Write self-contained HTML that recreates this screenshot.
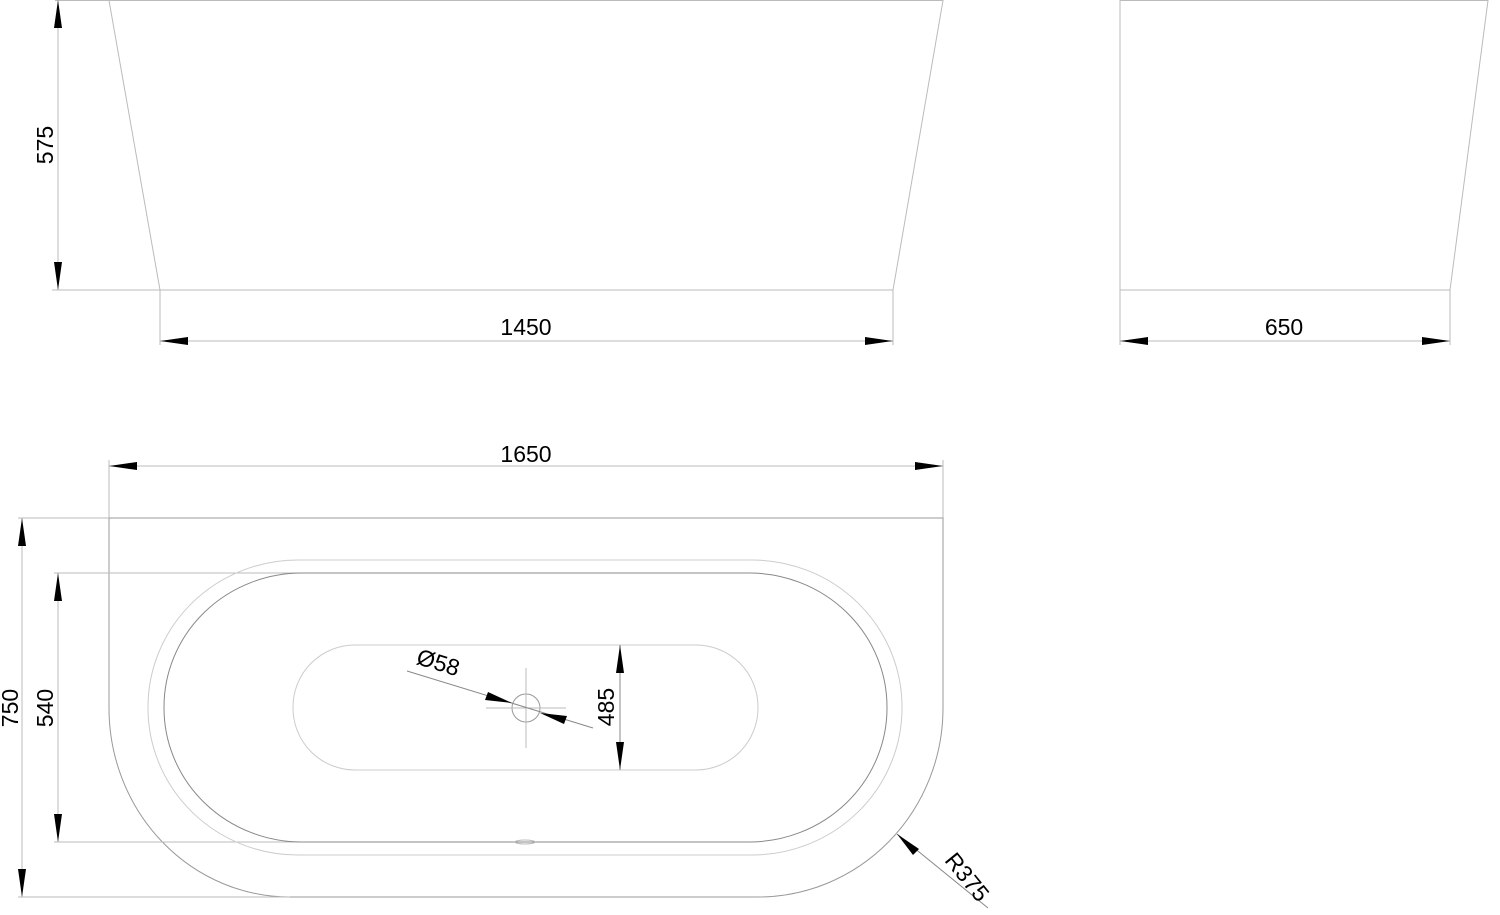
<!DOCTYPE html>
<html><head><meta charset="utf-8"><style>html,body{margin:0;padding:0;background:#fff}svg{display:block}</style></head>
<body>
<svg width="1500" height="915" viewBox="0 0 1500 915" xmlns="http://www.w3.org/2000/svg" font-family="Liberation Sans, sans-serif" font-size="23" fill="none">
<g stroke="#bbb" stroke-width="1">
<polygon points="109,0.5 943,0.5 893,290 160,290"/>
<line x1="52" y1="290" x2="160" y2="290"/>
<line x1="55" y1="0.5" x2="109" y2="0.5"/>
<polygon points="1120,0.5 1488,0.5 1450,290 1120,290"/>
<line x1="58" y1="0" x2="58" y2="290"/>
<line x1="160" y1="290" x2="160" y2="345"/><line x1="893" y1="290" x2="893" y2="345"/>
<line x1="160" y1="341" x2="893" y2="341"/>
<line x1="1120" y1="290" x2="1120" y2="345"/><line x1="1450" y1="290" x2="1450" y2="345"/>
<line x1="1120" y1="341" x2="1450" y2="341"/>
<line x1="109" y1="460" x2="109" y2="518"/><line x1="943" y1="460" x2="943" y2="518"/>
<line x1="109" y1="466" x2="943" y2="466"/>
<path d="M109,518 H943 V708 A185,189 0 0 1 758,897 H290 A181,189 0 0 1 109,708 Z" stroke="#999"/>
<line x1="18" y1="518" x2="109" y2="518"/><line x1="18" y1="897" x2="290" y2="897"/>
<line x1="22" y1="518" x2="22" y2="897"/>
<line x1="54" y1="573" x2="300" y2="573"/><line x1="54" y1="842" x2="520" y2="842"/>
<line x1="58" y1="573" x2="58" y2="842"/>
<rect x="148" y="560" width="754" height="295" rx="150" ry="147" stroke="#ccc"/>
<rect x="164" y="573" width="723" height="269" rx="138" ry="134" stroke="#888"/>
<rect x="293" y="645" width="465" height="125" rx="62" ry="62" stroke="#ccc"/>
<line x1="620" y1="645" x2="620" y2="770" stroke="#888"/>
<circle cx="526" cy="708" r="14" stroke="#999"/>
<line x1="486" y1="708" x2="566" y2="708"/><line x1="526" y1="668" x2="526" y2="748"/>
<line x1="407" y1="671" x2="593" y2="728" stroke="#888"/>
<line x1="897" y1="834" x2="988" y2="908" stroke="#888"/>
<ellipse cx="525" cy="842" rx="10" ry="2"/>
</g>
<g fill="#000">
<polygon points="58,0 54,28 62,28"/><polygon points="58,290 54,262 62,262"/>
<polygon points="160,341 188,337 188,345"/><polygon points="893,341 865,337 865,345"/>
<polygon points="1120,341 1148,337 1148,345"/><polygon points="1450,341 1422,337 1422,345"/>
<polygon points="109,466 137,462 137,470"/><polygon points="943,466 915,462 915,470"/>
<polygon points="22,518 18,546 26,546"/><polygon points="22,897 18,869 26,869"/>
<polygon points="58,573 54,601 62,601"/><polygon points="58,842 54,814 62,814"/>
<polygon points="620,645 616,673 624,673"/><polygon points="620,770 616,742 624,742"/>
<polygon points="512,703 485,700 488,692"/><polygon points="540,713 567,716 564,724"/>
<polygon points="897,834 919,849 913,855"/>
</g>
<g fill="#000" text-anchor="middle">
<text x="526" y="335">1450</text>
<text x="1284" y="335">650</text>
<text x="526" y="462">1650</text>
<text transform="translate(53,145) rotate(-90)">575</text>
<text transform="translate(18,708) rotate(-90)">750</text>
<text transform="translate(53,708) rotate(-90)">540</text>
<text transform="translate(614,707) rotate(-90)">485</text>
<text transform="translate(436,670) rotate(17)">Ø58</text>
<text transform="translate(961,882) rotate(51)">R375</text>
</g>
</svg>
</body></html>
